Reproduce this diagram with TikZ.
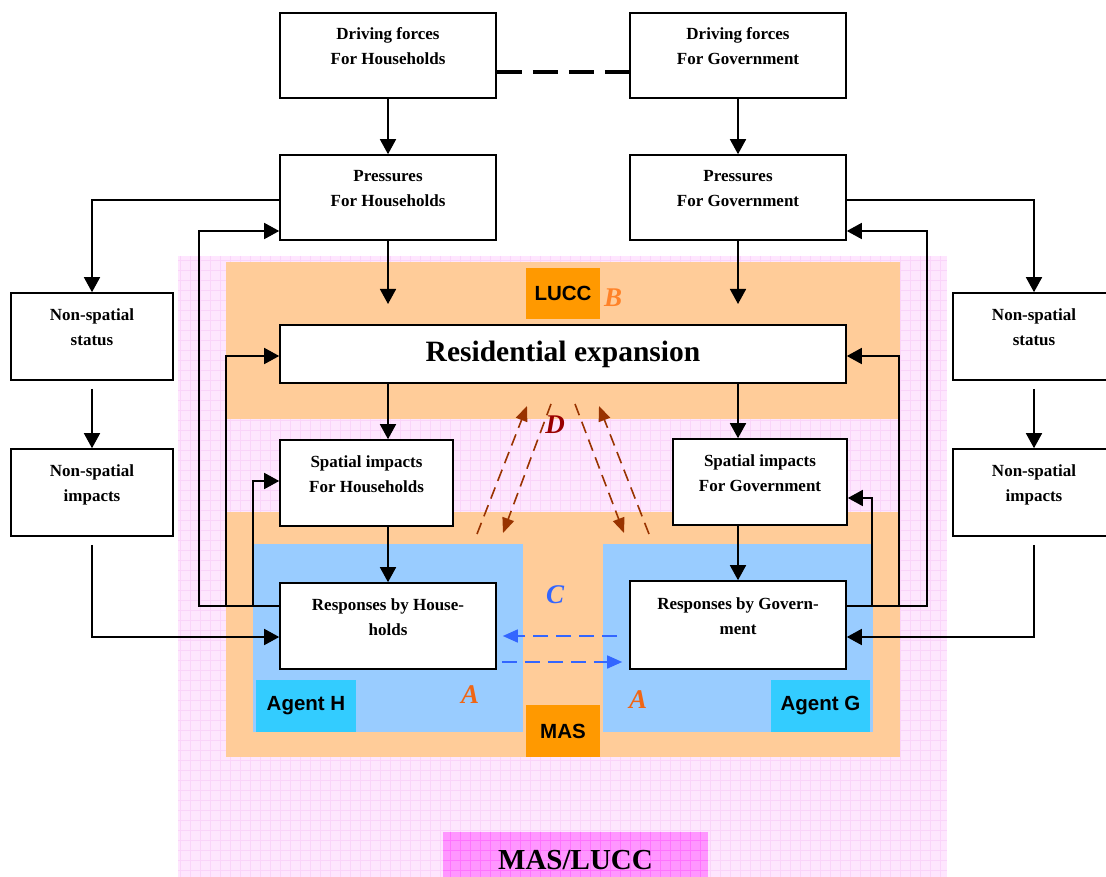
\documentclass[tikz,border=0pt]{standalone}
\usepackage{fontspec}
\setmainfont{Liberation Serif}
\setsansfont{Liberation Sans}
\usetikzlibrary{arrows.meta}
\definecolor{pinkbg}{RGB}{254,230,254}
\definecolor{pinkgrid}{RGB}{250,212,250}
\definecolor{magbox}{RGB}{255,150,255}
\definecolor{maggrid}{RGB}{255,115,255}
\definecolor{lightorange}{RGB}{255,204,153}
\definecolor{darkorange}{RGB}{255,153,0}
\definecolor{lightblue}{RGB}{153,204,255}
\definecolor{agentblue}{RGB}{51,204,255}
\definecolor{letterA}{RGB}{240,102,20}
\definecolor{letterB}{RGB}{255,130,40}
\definecolor{letterC}{RGB}{51,102,255}
\definecolor{letterD}{RGB}{153,0,0}
\definecolor{brownarrow}{RGB}{153,51,0}

\begin{document}
\begin{tikzpicture}[x=1pt, y=-1pt,
  box/.style={draw, rectangle, fill=white, line width=1.6pt, align=center, inner sep=0pt,
    font=\fontsize{17}{25}\selectfont\bfseries, text depth=18pt},
  arr/.style={-{Triangle[length=15pt,width=16pt]}, line width=1.6pt},
  tag/.style={font=\sffamily\bfseries\fontsize{20.5}{24}\selectfont, inner sep=0pt},
  letter/.style={font=\fontsize{27}{30}\selectfont\bfseries\itshape, inner sep=0pt},
  bluearr/.style={-{Triangle[length=15pt,width=13pt]}, line width=1.6pt, letterC, dash pattern=on 15pt off 8pt},
  brownarr/.style={-{Triangle[length=15pt,width=12pt]}, line width=1.6pt, brownarrow, dash pattern=on 12pt off 7pt}]
\useasboundingbox (0,0) rectangle (1106,877);

% Background regions
\fill[pinkbg] (178,256) rectangle (947,877);
\foreach \gx in {180,190,...,940} \draw[pinkgrid, line width=0.5pt] (\gx,256) -- (\gx,877);
\foreach \gy in {260,270,...,870} \draw[pinkgrid, line width=0.5pt] (178,\gy) -- (947,\gy);
\fill[magbox] (443,832) rectangle (708,877);
\foreach \gx in {450,460,...,700} \draw[maggrid, line width=0.5pt] (\gx,832) -- (\gx,877);
\foreach \gy in {840,850,...,870} \draw[maggrid, line width=0.5pt] (443,\gy) -- (708,\gy);
\fill[lightorange] (226,262) rectangle (900,419);
\fill[lightorange] (226,512) rectangle (900,757);
\fill[lightblue] (253,544) rectangle (523,732);
\fill[lightblue] (603,544) rectangle (873,732);

% Tags
\node[tag, fill=agentblue, minimum width=100pt, minimum height=52pt] (agenth) at (306,706) {Agent H};
\node[tag, fill=agentblue, minimum width=99pt, minimum height=52pt] (agentg) at (820.5,706) {Agent G};
\node[tag, fill=darkorange, minimum width=74pt, minimum height=51pt] (lucc) at (563,293.5) {LUCC};
\node[tag, fill=darkorange, minimum width=74pt, minimum height=52pt] (mas) at (563,731) {MAS};
\node[font=\fontsize{29}{32}\selectfont\bfseries] (maslucc) at (575.5,860) {MAS/LUCC};

% Boxes
\node[box, minimum width=216pt, minimum height=85pt] (dfh) at (388,55.5) {Driving forces\\For Households};
\node[box, minimum width=216pt, minimum height=85pt] (dfg) at (738,55.5) {Driving forces\\For Government};
\node[box, minimum width=216pt, minimum height=85pt] (prh) at (388,197.5) {Pressures\\For Households};
\node[box, minimum width=216pt, minimum height=85pt] (prg) at (738,197.5) {Pressures\\For Government};
\node[box, minimum width=162pt, minimum height=87pt] (nssl) at (92,336.5) {Non-spatial\\status};
\node[box, minimum width=162pt, minimum height=87pt] (nsil) at (92,492.5) {Non-spatial\\impacts};
\node[box, minimum width=162pt, minimum height=87pt] (nssr) at (1034,336.5) {Non-spatial\\status};
\node[box, minimum width=162pt, minimum height=87pt] (nsir) at (1034,492.5) {Non-spatial\\impacts};
\node[box, minimum width=566pt, minimum height=58pt, text depth=, font=\fontsize{29.5}{32}\selectfont\bfseries] (resexp) at (563,354) {Residential expansion};
\node[box, minimum width=173pt, minimum height=86pt] (sih) at (366.5,483) {Spatial impacts\\For Households};
\node[box, minimum width=174pt, minimum height=86pt] (sig) at (760,482) {Spatial impacts\\For Government};
\node[box, minimum width=216pt, minimum height=86pt] (rsh) at (388,626) {Responses by House-\\holds};
\node[box, minimum width=216pt, minimum height=88pt] (rsg) at (738,625) {Responses by Govern-\\ment};

% Letters
\node[letter, letterB] (lb) at (613,298) {B};
\node[letter, letterD] (ld) at (555,425) {D};
\node[letter, letterC] (lc) at (555,595) {C};
\node[letter, letterA] (lah) at (470,695) {A};
\node[letter, letterA] (lag) at (638,700) {A};

% Arrows
\draw[line width=3.5pt, dash pattern=on 25pt off 11pt] (dfh.east |- 0,72) -- (dfg.west |- 0,72);
\draw[arr] (dfh) -- (prh);
\draw[arr] (dfg) -- (prg);
\coordinate (inh) at (388,304);
\coordinate (ing) at (738,304);
\draw[arr] (prh) -- (inh);
\draw[arr] (prg) -- (ing);
\draw[arr] (resexp.south -| rsh) -- (sih.north -| rsh);
\draw[arr] (resexp.south -| rsg) -- (sig.north -| rsg);
\draw[arr] (sih.south -| rsh) -- (rsh);
\draw[arr] (sig.south -| rsg) -- (rsg);
\draw[arr] (prh.west |- 0,200) -| (nssl);
\draw[arr] (prg.east |- 0,200) -| (nssr);
\draw[arr, shorten <=8pt] (nssl) -- (nsil);
\draw[arr, shorten <=8pt] (nssr) -- (nsir);
\draw[arr, shorten <=8pt] (nsil) |- (rsh.west |- 0,637);
\draw[arr, shorten <=8pt] (nsir) |- (rsg.east |- 0,637);

% Feedback
\draw[arr] (rsh.west |- 0,606) -- (199,606) |- (prh.west |- 0,231);
\draw[arr] (rsh.west |- 0,606) -- (226,606) |- (resexp.west |- 0,356);
\draw[arr] (rsh.west |- 0,606) -- (253,606) |- (sih.west |- 0,481);
\draw[arr] (rsg.east |- 0,606) -- (927,606) |- (prg.east |- 0,231);
\draw[arr] (rsg.east |- 0,606) -- (899,606) |- (resexp.east |- 0,356);
\draw[arr] (rsg.east |- 0,606) -- (872,606) |- (sig.east |- 0,498);

% Agent interaction
\draw[bluearr, shorten <=12pt, shorten >=6pt] (rsg.west |- 0,636) -- (rsh.east |- 0,636);
\draw[bluearr, shorten <=5pt, shorten >=7pt] (rsh.east |- 0,662) -- (rsg.west |- 0,662);

% LUCC - MAS coupling
\coordinate (d1s) at (477,534); \coordinate (d1e) at (527,406);
\coordinate (d2s) at (551,404); \coordinate (d2e) at (503,533);
\coordinate (d3s) at (575,404); \coordinate (d3e) at (624,533);
\coordinate (d4s) at (649,534); \coordinate (d4e) at (599,406);
\draw[brownarr] (d1s) -- (d1e);
\draw[brownarr] (d2s) -- (d2e);
\draw[brownarr] (d3s) -- (d3e);
\draw[brownarr] (d4s) -- (d4e);

\end{tikzpicture}
\end{document}
